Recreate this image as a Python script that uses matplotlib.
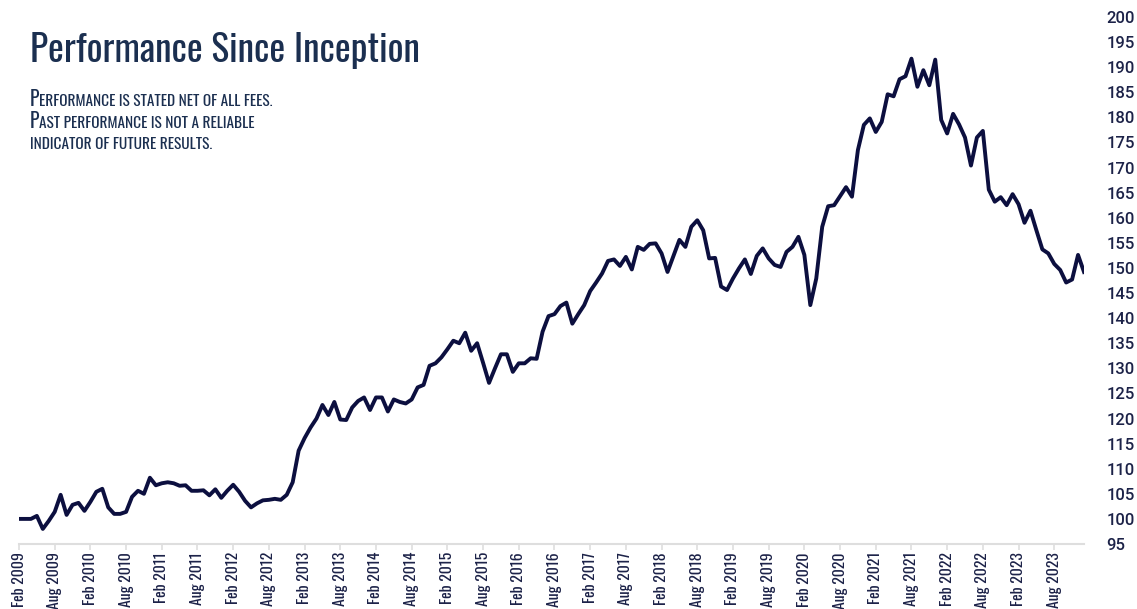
import matplotlib
matplotlib.use("Agg")
import matplotlib.pyplot as plt
from matplotlib import font_manager
import numpy as np
import pandas as pd

# ---------------- data ----------------
start_month = "2009-02"
values = [
    100.0, 100.0, 100.0, 100.6, 98.0, 99.6, 101.4, 104.8, 100.8, 102.8,
    103.2, 101.6, 103.4, 105.4, 106.0, 102.3, 101.0, 101.0, 101.4, 104.4,
    105.6, 105.0, 108.2, 106.7, 107.1, 107.3, 107.1, 106.6, 106.7, 105.6,
    105.6, 105.7, 104.7, 105.9, 104.2, 105.6, 106.8, 105.4, 103.6, 102.3,
    103.1, 103.7, 103.8, 104.0, 103.8, 104.8, 107.3, 113.6, 116.1, 118.2,
    120.0, 122.7, 120.7, 123.3, 119.8, 119.7, 122.2, 123.5, 124.2, 121.7,
    124.2, 124.2, 121.4, 123.8, 123.3, 123.0, 123.8, 126.2, 126.7, 130.5,
    131.0, 132.2, 133.8, 135.5, 135.0, 137.1, 133.5, 135.0, 131.1, 127.1,
    130.0, 132.8, 132.8, 129.3, 131.0, 131.0, 132.0, 131.9, 137.3, 140.4,
    140.8, 142.4, 143.1, 138.9, 140.8, 142.6, 145.4, 147.1, 148.9, 151.4,
    151.7, 150.4, 152.2, 149.7, 154.2, 153.6, 154.8, 154.9, 152.9, 149.2,
    152.4, 155.6, 154.2, 158.2, 159.5, 157.5, 151.9, 152.0, 146.3, 145.6,
    147.9, 149.9, 151.7, 148.8, 152.4, 153.9, 151.9, 150.6, 150.2, 153.2,
    154.2, 156.2, 152.6, 142.6, 147.9, 158.2, 162.3, 162.5, 164.3, 166.1,
    164.2, 173.5, 178.5, 179.8, 177.1, 179.1, 184.6, 184.2, 187.6, 188.2,
    191.7, 186.1, 189.4, 186.4, 191.5, 179.5, 176.8, 180.7, 178.6, 176.0,
    170.4, 176.0, 177.3, 165.6, 163.2, 164.1, 162.5, 164.7, 162.7, 159.0,
    161.4, 157.5, 153.7, 152.9, 150.8, 149.6, 147.1, 147.7, 152.6, 149.2,
]
dates = pd.period_range(start_month, periods=len(values), freq="M")
tick_every = 6
y_ticks = list(range(95, 201, 5))

title = "Performance Since Inception"
note_lines = [
    ("P", "ERFORMANCE IS STATED NET OF ALL FEES."),
    ("P", "AST PERFORMANCE IS NOT A RELIABLE"),
    ("", "INDICATOR OF FUTURE RESULTS."),
]

# ---------------- fonts ----------------
avail = {f.name for f in font_manager.fontManager.ttflist}
def pick(cands):
    for c in cands:
        if c in avail:
            return c
    return "DejaVu Sans"
cond = pick(["Oswald", "Roboto Condensed", "Liberation Sans Narrow",
             "Open Sans Condensed", "Roboto", "DejaVu Sans"])
numfont = pick(["Roboto", "Lato", "DejaVu Sans"])

navy = "#1b2f50"
line_col = "#0c0f3f"
label_col = "#1c2248"
grey = "#dedede"

# ---------------- figure ----------------
W, H = 1137, 609
fig = plt.figure(figsize=(W / 100, H / 100), dpi=100)
ax = fig.add_axes([19 / W, 65 / H, (1084 - 19) / W, (592 - 65) / H])

x = np.arange(len(values))
ax.plot(x, values, color=line_col, lw=2.8, solid_joinstyle="round")

ax.set_xlim(0, len(values) - 1)
ax.set_ylim(95, 200)

tick_pos = x[::tick_every]
tick_lab = [d.strftime("%b %Y") for d in dates[::tick_every]]
ax.set_xticks(tick_pos)
ax.set_xticklabels(tick_lab, rotation=90, fontfamily=cond, fontsize=11.3,
                   color=label_col)
ax.tick_params(axis="x", length=4.3, width=1.2, color=grey, pad=1.5)

ax.yaxis.tick_right()
ax.set_yticks(y_ticks)
ax.set_yticklabels([str(v) for v in y_ticks], fontfamily=numfont,
                   fontsize=12, fontweight="medium", color=label_col,
                   ha="left")
ax.tick_params(axis="y", length=0, pad=16)

for s in ["top", "left", "right"]:
    ax.spines[s].set_visible(False)
ax.spines["bottom"].set_color(grey)
ax.spines["bottom"].set_linewidth(1.5)

# ---------------- title and note ----------------
fig.text(30 / W, 1 - 62 / H, title, fontfamily=cond, fontsize=27,
         color=navy, va="baseline", ha="left")

baselines = [106, 128, 149]
for (big, small), bl in zip(note_lines, baselines):
    yb = 1 - bl / H
    if big:
        t1 = fig.text(30 / W, yb, big, fontfamily=cond, fontsize=14,
                      color=navy, va="baseline", ha="left")
        ax.annotate(small, xy=(1, yb), xycoords=(t1, "figure fraction"),
                    fontfamily=cond, fontsize=11, color=navy,
                    va="baseline", ha="left", annotation_clip=False)
    else:
        fig.text(30 / W, yb, small, fontfamily=cond, fontsize=11,
                 color=navy, va="baseline", ha="left")

fig.savefig("out.png", dpi=100)
